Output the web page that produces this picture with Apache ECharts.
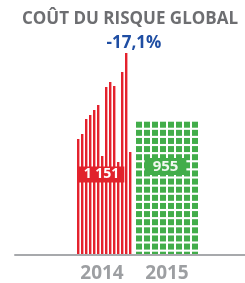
<!DOCTYPE html>
<html><head><meta charset="utf-8">
<script src="https://cdn.jsdelivr.net/npm/echarts@6/dist/echarts.min.js"></script>
<style>html,body{margin:0;padding:0;background:#fff}#c{width:245px;height:283px}</style>
</head><body><div id="c"></div>
<script>
const title = 'COÛT DU RISQUE GLOBAL';
const changeLabel = '-17,1%';
const years = ['2014', '2015'];
const totals = [1151, 955];
// 2014: 14 striped red bars (heights, chart units)
const bars2014 = [116, 121, 136, 140, 145, 150, 99, 168, 173, 169, 93, 183, 202, 103];
// 2015: 8 columns of green squares (heights, chart units)
const cols2015 = [133.3, 133.3, 133.3, 133.3, 133.3, 133.3, 133.3, 133.3];

const fmt = v => String(v).replace(/\B(?=(\d{3})+(?!\d))/g, ' ');
const RED = '#e4222d', PINK = '#f5a3a8', GREEN = '#42ad4a', GREY = '#a7a9ac';
const FONT = '"Open Sans", "Liberation Sans", sans-serif';

const chart = echarts.init(document.getElementById('c'), null, {renderer: 'canvas'});
const hiddenY = i => ({type: 'value', gridIndex: i, min: 0, max: 205, show: false});
chart.setOption({
  animation: false,
  grid: [
    {left: 76.5, width: 56, top: 50, bottom: 28},
    {left: 135, width: 64, top: 50, bottom: 28},
    {left: 15, right: 0, top: 50, bottom: 28},
    {left: 69.5, width: 130, top: 50, bottom: 28}
  ],
  xAxis: [
    {type: 'category', gridIndex: 0, data: bars2014.map((_, i) => i), show: false},
    {type: 'category', gridIndex: 1, data: cols2015.map((_, i) => i), show: false},
    {type: 'category', gridIndex: 2, data: [''], z: 10,
      axisLine: {lineStyle: {color: GREY, width: 2}}, axisTick: {show: false}, axisLabel: {show: false}},
    {type: 'category', gridIndex: 3, data: years, axisLine: {show: false}, axisTick: {show: false},
      axisLabel: {margin: 9, color: '#9d9fa2', fontSize: 19, fontWeight: 'bold', fontFamily: FONT}}
  ],
  yAxis: [hiddenY(0), hiddenY(1), hiddenY(2), hiddenY(3)],
  series: [
    {type: 'bar', xAxisIndex: 0, yAxisIndex: 0, data: bars2014, barWidth: 3,
      itemStyle: {color: new echarts.graphic.LinearGradient(0, 0, 1, 0, [
        {offset: 0, color: RED}, {offset: 0.64, color: RED},
        {offset: 0.66, color: PINK}, {offset: 1, color: PINK}])}},
    {type: 'custom', xAxisIndex: 1, yAxisIndex: 1, data: cols2015.map((v, i) => [i, v]),
      renderItem: function (params, api) {
        const top = api.coord([api.value(0), api.value(1)]);
        const base = api.coord([api.value(0), 0]);
        const children = [];
        const step = 8.125, size = 6;
        for (let y = top[1]; y < base[1]; y += step) {
          const h = Math.min(size, base[1] - y);
          children.push({type: 'rect', shape: {x: top[0] - size / 2, y: y, width: size, height: h},
            style: {fill: GREEN}});
        }
        return {type: 'group', children: children};
      }}
  ],
  graphic: [
    {type: 'text', x: 130, y: 19, style: {text: title, fill: '#6d6e71', align: 'center', verticalAlign: 'middle',
      font: 'bold 17px ' + FONT}},
    {type: 'text', x: 134, y: 43, style: {text: changeLabel, fill: '#1f4ea3', align: 'center', verticalAlign: 'middle',
      font: 'bold 17px ' + FONT}},
    {type: 'text', x: 101.5, y: 174.5, z: 20, style: {text: fmt(totals[0]), fill: '#fff', align: 'center', verticalAlign: 'middle',
      font: 'bold 14px ' + FONT, backgroundColor: '#e1222b', padding: [1, 5]}},
    {type: 'text', x: 165.5, y: 166.5, z: 20, style: {text: fmt(totals[1]), fill: '#f0f7ef', align: 'center', verticalAlign: 'middle',
      font: 'bold 15px ' + FONT, backgroundColor: GREEN, padding: [1, 8]}}
  ]
});
</script></body></html>
